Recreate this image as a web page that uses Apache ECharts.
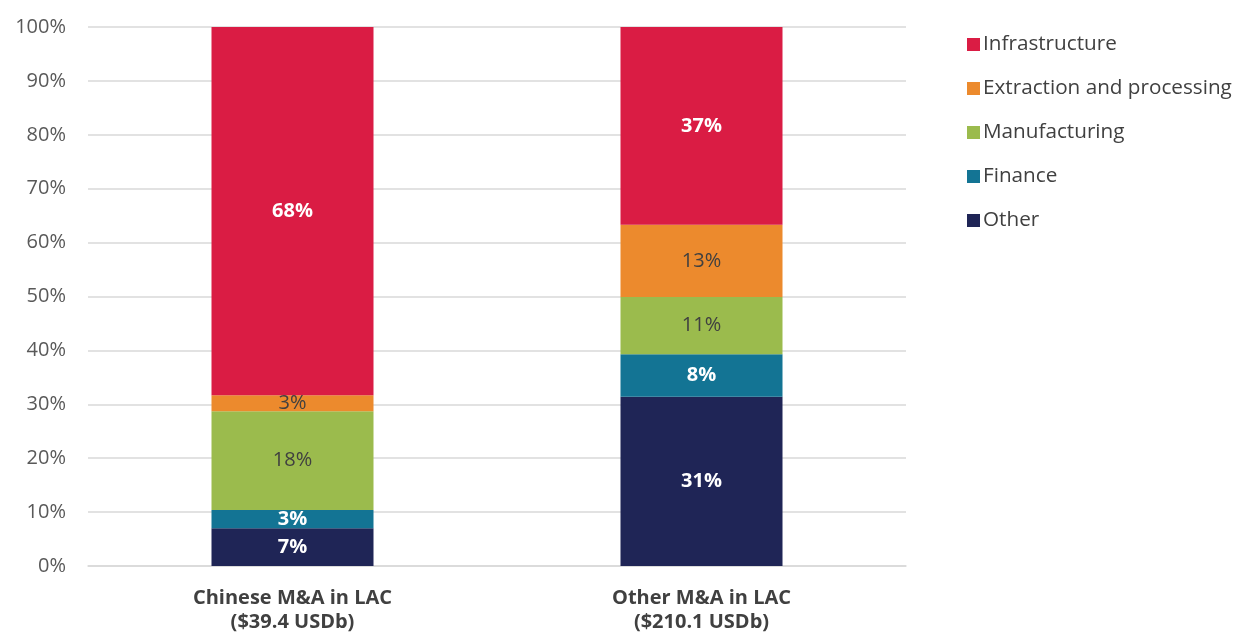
<!DOCTYPE html>
<html lang="en">
<head>
    <meta charset="UTF-8">
    <title>M&A by sector</title>
    <style>
        html, body { margin: 0; padding: 0; background: #fff; }
    </style>
</head>
<body>
    <div id="chart" style="width:1235px; height:637px;"></div>
    <script src="https://cdn.jsdelivr.net/npm/echarts@6/dist/echarts.min.js"></script>
    <script>
        const categories = ['Chinese M&A in LAC\n($39.4 USDb)', 'Other M&A in LAC\n($210.1 USDb)']
        const other = [7.0, 31.4]
        const finance = [3.4, 7.9]
        const manufacturing = [18.3, 10.6]
        const extraction = [3.0, 13.4]
        const infrastructure = [68.3, 36.7]
        const yTicks = [0, 10, 20, 30, 40, 50, 60, 70, 80, 90, 100]

        const chart = echarts.init(document.getElementById('chart'))
        const font = '"Open Sans", "Noto Sans", sans-serif'

        // label colour differs: white on dark fills, grey on light fills
        function seg(name, data, color, labelColor, bold) {
            return {
                name: name,
                type: 'bar',
                stack: 'all',
                data: data,
                barWidth: 162,
                itemStyle: { color: color },
                label: {
                    show: true,
                    position: 'inside',
                    formatter: p => Math.round(p.value) + '%',
                    color: labelColor,
                    fontFamily: font,
                    fontSize: 20,
                    fontWeight: bold ? 'bold' : 'normal'
                }
            }
        }

        chart.setOption({
            animation: false,
            textStyle: { fontFamily: font },
            grid: { left: 88, right: 329, top: 27, bottom: 71, outerBoundsMode: 'none' },
            legend: {
                orient: 'vertical',
                left: 962,
                top: 29,
                itemWidth: 13,
                itemHeight: 13,
                itemGap: 23,
                icon: 'rect',
                data: ['Infrastructure', 'Extraction and processing', 'Manufacturing', 'Finance', 'Other'],
                textStyle: { fontSize: 20.7, color: '#404040', fontFamily: font, padding: [0, 0, 0, -2] }
            },
            xAxis: {
                type: 'category',
                data: categories,
                axisLine: { lineStyle: { color: '#d9d9d9', width: 1.5 } },
                axisTick: { show: false },
                axisLabel: {
                    fontSize: 20,
                    fontWeight: 'bold',
                    color: '#404040',
                    lineHeight: 24,
                    margin: 20
                }
            },
            yAxis: {
                type: 'value',
                min: yTicks[0],
                max: yTicks[yTicks.length - 1],
                interval: 10,
                axisLine: { show: false },
                axisTick: { show: false },
                splitLine: { lineStyle: { color: '#d9d9d9', width: 1.5 } },
                axisLabel: {
                    formatter: v => v + '%',
                    fontSize: 20,
                    color: '#595959',
                    margin: 22
                }
            },
            series: [
                seg('Other', other, '#1f2556', '#ffffff', true),
                seg('Finance', finance, '#137494', '#ffffff', true),
                seg('Manufacturing', manufacturing, '#9bbb4d', '#404040', false),
                seg('Extraction and processing', extraction, '#ec8a2d', '#404040', false),
                seg('Infrastructure', infrastructure, '#da1c44', '#ffffff', true)
            ]
        })
    </script>
</body>
</html>
